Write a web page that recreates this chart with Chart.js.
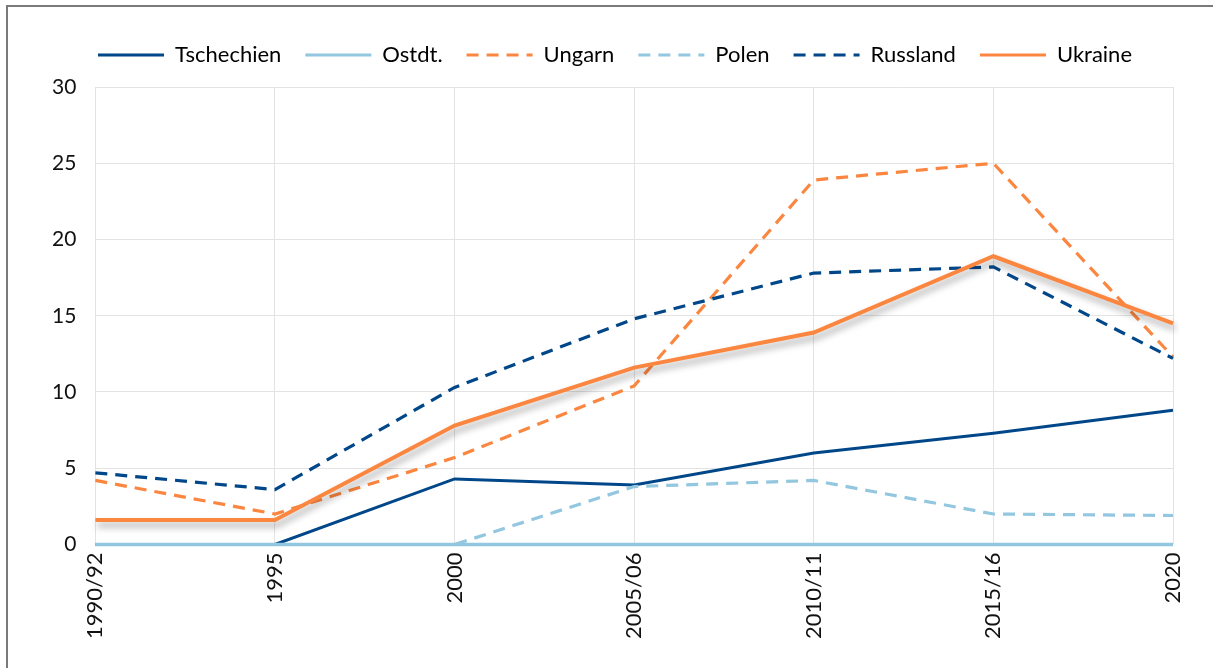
<!DOCTYPE html>
<html>
<head>
<meta charset="utf-8">
<script src="https://cdn.jsdelivr.net/npm/chart.js@4"></script>
<style>
    html, body { margin: 0; padding: 0; background: #fff; }
    #frame {
        position: absolute; left: 6px; top: 5px; width: 1220px; height: 680px;
        border: 2px solid #7a7a7a; box-sizing: border-box;
    }
    #wrap { position: absolute; left: 0; top: 0; width: 1213px; height: 668px; }
</style>
</head>
<body>
<div id="frame"></div>
<div id="wrap"><canvas id="lineChart"></canvas></div>
<script>
const jahre = ['1990/92', '1995', '2000', '2005/06', '2010/11', '2015/16', '2020'];
const tschechien = [0, 0, 4.3, 3.9, 6.0, 7.3, 8.8];
const ostdt = [0, 0, 0, 0, 0, 0, 0];
const ungarn = [4.2, 2.0, 5.7, 10.4, 23.9, 25.0, 12.3];
const polen = [0, 0, 0, 3.8, 4.2, 2.0, 1.9];
const russland = [4.7, 3.6, 10.3, 14.8, 17.8, 18.2, 12.2];
const ukraine = [1.6, 1.6, 7.8, 11.6, 13.9, 18.9, 14.5];
const yTicks = [0, 5, 10, 15, 20, 25, 30];

const dunkelblau = '#00478a';
const hellblau = '#93c6df';
const orange = '#fb8640';
const strich = [12, 8];

// Schatten nur fuer die Ukraine-Linie
const schatten = {
    id: 'schatten',
    beforeDatasetDraw(chart, args) {
        if (args.index === 5) {
            const ctx = chart.ctx;
            ctx.save();
            ctx.shadowColor = 'rgba(0, 0, 0, 0.35)';
            ctx.shadowBlur = 7;
            ctx.shadowOffsetX = 2;
            ctx.shadowOffsetY = 5;
        }
    },
    afterDatasetDraw(chart, args) {
        if (args.index === 5) chart.ctx.restore();
    }
};

// mehr Abstand unter der Legende, Legende etwas nach rechts
const legendenAbstand = {
    id: 'legendenAbstand',
    beforeInit(chart) {
        const fit = chart.legend.fit;
        chart.legend.fit = function () {
            fit.bind(chart.legend)();
            this.height += 11;
        };
    },
    afterLayout(chart) {
        chart.legend.left += 12;
        chart.legend.right += 12;
    }
};

function serie(label, data, color, dash, width, order) {
    return {
        label: label,
        data: data,
        borderColor: color,
        backgroundColor: color,
        borderWidth: width,
        borderDash: dash,
        pointRadius: 0,
        tension: 0,
        fill: false,
        clip: 6,
        order: order
    };
}

const ctx = document.getElementById('lineChart').getContext('2d');
const chart = new Chart(ctx, {
    type: 'line',
    data: {
        labels: jahre,
        datasets: [
            serie('Tschechien', tschechien, dunkelblau, [], 3, 6),
            serie('Ostdt.', ostdt, hellblau, [], 3.5, 5),
            serie('Ungarn', ungarn, orange, strich, 3.2, 4),
            serie('Polen', polen, hellblau, strich, 3.2, 3),
            serie('Russland', russland, dunkelblau, strich, 3.2, 2),
            serie('Ukraine', ukraine, orange, [], 4, 1)
        ]
    },
    plugins: [schatten, legendenAbstand],
    options: {
        responsive: true,
        maintainAspectRatio: false,
        animation: false,
        layout: { padding: { left: 33, right: 40, top: 20, bottom: 21 } },
        plugins: {
            tooltip: { enabled: false },
            legend: {
                position: 'top',
                labels: {
                    color: '#111',
                    font: { family: 'Lato', size: 22 },
                    usePointStyle: true,
                    pointStyle: 'line',
                    pointStyleWidth: 66,
                    boxHeight: 10,
                    padding: 24,
                    generateLabels: c => c.data.datasets.map((ds, i) => ({
                        text: ds.label,
                        datasetIndex: i,
                        strokeStyle: ds.borderColor,
                        fillStyle: ds.borderColor,
                        lineWidth: 3.2,
                        lineDash: ds.borderDash,
                        pointStyle: 'line',
                        hidden: false
                    }))
                }
            }
        },
        scales: {
            y: {
                min: 0,
                max: 30,
                afterBuildTicks: axis => { axis.ticks = yTicks.map(v => ({ value: v })); },
                grid: { color: '#e3e3e3', lineWidth: 1, drawTicks: false },
                border: { display: false },
                ticks: {
                    color: '#111',
                    padding: 19,
                    font: { family: 'Lato', size: 21 }
                }
            },
            x: {
                offset: false,
                grid: { color: '#e3e3e3', lineWidth: 1, drawTicks: false, offset: false },
                border: { display: false },
                ticks: {
                    color: '#111',
                    padding: 8,
                    minRotation: 90,
                    maxRotation: 90,
                    autoSkip: false,
                    font: { family: 'Lato', size: 22 }
                }
            }
        }
    }
});
</script>
</body>
</html>
